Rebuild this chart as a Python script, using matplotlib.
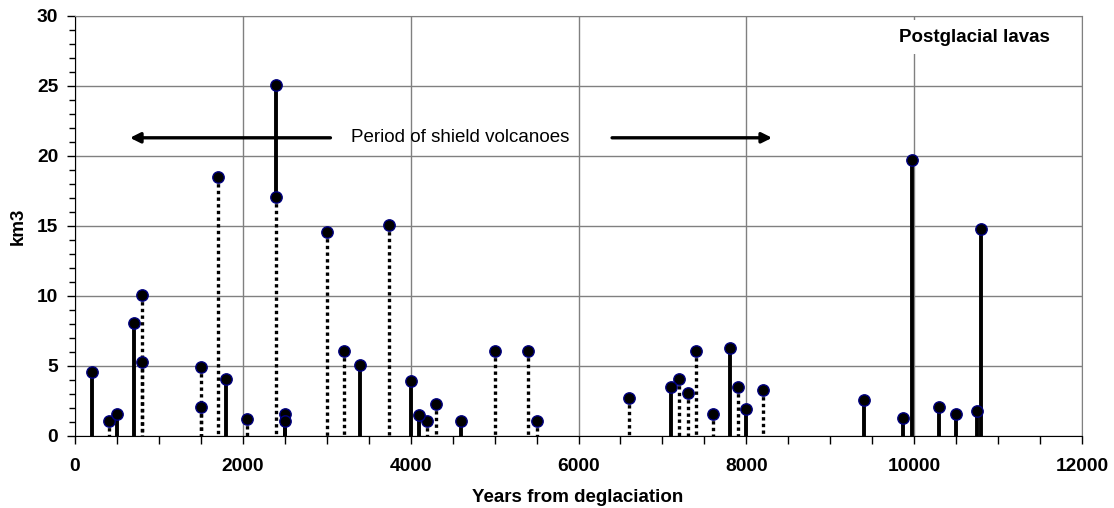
import matplotlib
matplotlib.use("Agg")
import matplotlib.pyplot as plt
from matplotlib.ticker import MultipleLocator

plt.rcParams["font.family"] = ["Liberation Sans", "DejaVu Sans"]

# eruptions drawn with a solid stem (years from deglaciation, km3)
solid_years = [200, 500, 700, 1800, 2400, 2500, 2500, 3400, 4000, 4100, 4600,
               7100, 7800, 8000, 9400, 9870, 9970, 10300, 10500, 10750, 10800]
solid_km3 = [4.6, 1.6, 8.1, 4.1, 25.1, 1.6, 1.1, 5.1, 3.9, 1.5, 1.1,
             3.5, 6.3, 1.9, 2.6, 1.3, 19.7, 2.1, 1.6, 1.8, 14.8]

# eruptions drawn with a dotted stem
dotted_years = [400, 800, 800, 1500, 1500, 1700, 2050, 2400, 3000, 3200, 3740,
                4200, 4300, 5000, 5400, 5500, 6600, 7200, 7300, 7400, 7600, 7900, 8200]
dotted_km3 = [1.1, 10.1, 5.3, 4.9, 2.1, 18.5, 1.2, 17.1, 14.6, 6.1, 15.1,
              1.1, 2.3, 6.1, 6.1, 1.1, 2.7, 4.1, 3.1, 6.1, 1.6, 3.5, 3.3]

x_ticks = [0, 2000, 4000, 6000, 8000, 10000, 12000]
y_ticks = [0, 5, 10, 15, 20, 25, 30]

fig = plt.figure(figsize=(11.14, 5.08), dpi=100)
ax = fig.add_axes([75 / 1114, 72 / 508, 1007 / 1114, 420 / 508])

# solid stems start on top of a dotted one at the same year, if any
solid_base = []
for x, y in zip(solid_years, solid_km3):
    below = [d for xd, d in zip(dotted_years, dotted_km3) if xd == x and d < y]
    solid_base.append(max(below) if below else 0)

# dotted stems drawn top-down so the dot pattern starts under the marker
ax.vlines(dotted_years, dotted_km3, [0] * len(dotted_years), colors="black",
          linewidth=2.4, linestyles=(0, (1, 1)), zorder=3)
ax.vlines(solid_years, solid_base, solid_km3, colors="black", linewidth=2.8, zorder=3)

ax.plot(dotted_years + solid_years, dotted_km3 + solid_km3, "o", color="black",
        markeredgecolor="#000080", markeredgewidth=1, markersize=8.2,
        linestyle="none", zorder=4)

ax.set_xlim(0, 12000)
ax.set_ylim(0, 30)
ax.set_xticks(x_ticks)
ax.set_yticks(y_ticks)
ax.xaxis.set_minor_locator(MultipleLocator(500))
ax.yaxis.set_minor_locator(MultipleLocator(1))
ax.tick_params(which="major", direction="out", length=6, width=1, labelsize=13.8)
ax.tick_params(axis="x", which="major", pad=10)
ax.tick_params(axis="y", which="major", pad=6)
ax.tick_params(axis="x", which="minor", direction="out", length=6, width=1)
ax.tick_params(axis="y", which="minor", direction="out", length=4, width=1)
for lab in ax.get_xticklabels() + ax.get_yticklabels():
    lab.set_fontweight("bold")

ax.grid(which="major", color="#808080", linewidth=1)
for side in ["top", "right"]:
    ax.spines[side].set_color("#808080")
for side in ["left", "bottom"]:
    ax.spines[side].set_color("black")

ax.annotate("", xy=(655, 21.3), xytext=(3044, 21.3),
            arrowprops=dict(arrowstyle="-|>,head_length=0.6,head_width=0.3",
                            color="black", lw=2.4, shrinkA=0, shrinkB=0), zorder=3)
ax.annotate("", xy=(8307, 21.3), xytext=(6400, 21.3),
            arrowprops=dict(arrowstyle="-|>,head_length=0.6,head_width=0.3",
                            color="black", lw=2.4, shrinkA=0, shrinkB=0), zorder=3)
ax.text(4589, 21.3, "Period of shield volcanoes", fontsize=13.5,
        ha="center", va="center", zorder=3)
ax.text(10714, 28.5, "Postglacial lavas", fontsize=13.5, fontweight="bold",
        ha="center", va="center", zorder=2,
        bbox=dict(facecolor="white", edgecolor="none", pad=6))

fig.text(578 / 1114, 1 - 497 / 508, "Years from deglaciation", fontsize=13.5,
         fontweight="bold", ha="center", va="center")
fig.text(18 / 1114, 1 - 226 / 508, "km3", fontsize=13.5, fontweight="bold",
         ha="center", va="center", rotation=90)

fig.savefig("out.png", dpi=100)
